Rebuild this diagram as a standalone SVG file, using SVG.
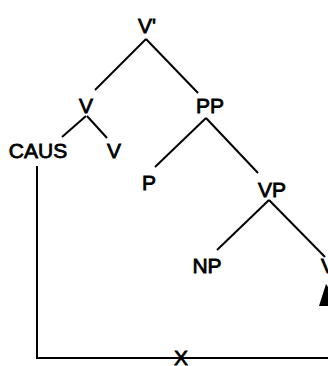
<svg xmlns="http://www.w3.org/2000/svg" width="328" height="366" viewBox="0 0 328 366">
<style>
text{font-family:"Liberation Sans",Arial,sans-serif;font-size:21px;fill:#000;stroke:#000;stroke-width:0.8;text-anchor:middle}
.e{stroke:#000;stroke-width:2;fill:none;stroke-linecap:butt}
</style>
<rect width="328" height="366" fill="#fff"/>
<g id="connectors">
<line class="e" x1="146" y1="39" x2="95" y2="90"/>
<line class="e" x1="146" y1="39" x2="198" y2="93"/>
<line class="e" x1="86" y1="116" x2="62" y2="137"/>
<line class="e" x1="87" y1="116" x2="107" y2="138"/>
<line class="e" x1="206" y1="118" x2="155" y2="167"/>
<line class="e" x1="206" y1="118" x2="258" y2="173"/>
<line class="e" x1="269" y1="200" x2="217" y2="250"/>
<line class="e" x1="269" y1="200" x2="325" y2="257"/>
<polyline class="e" points="37,166 37,358 328,358"/>
</g>
<g id="n-vbar"><text x="147" y="33">V'</text></g>
<g id="n-v"><text x="86" y="113">V</text></g>
<g id="n-pp"><text x="210" y="113">PP</text></g>
<g id="n-caus"><text x="38" y="158">CAUS</text></g>
<g id="n-v2"><text x="114" y="158">V</text></g>
<g id="n-p"><text x="149" y="190">P</text></g>
<g id="n-vp"><text x="272" y="197">VP</text></g>
<g id="n-np"><text x="207" y="273">NP</text></g>
<g id="n-v3"><text x="321" y="273" style="text-anchor:start">V</text><polygon points="326,284 319,306 342,306" fill="#000"/></g>
<g id="n-x"><text x="181" y="365">X</text></g>
</svg>
